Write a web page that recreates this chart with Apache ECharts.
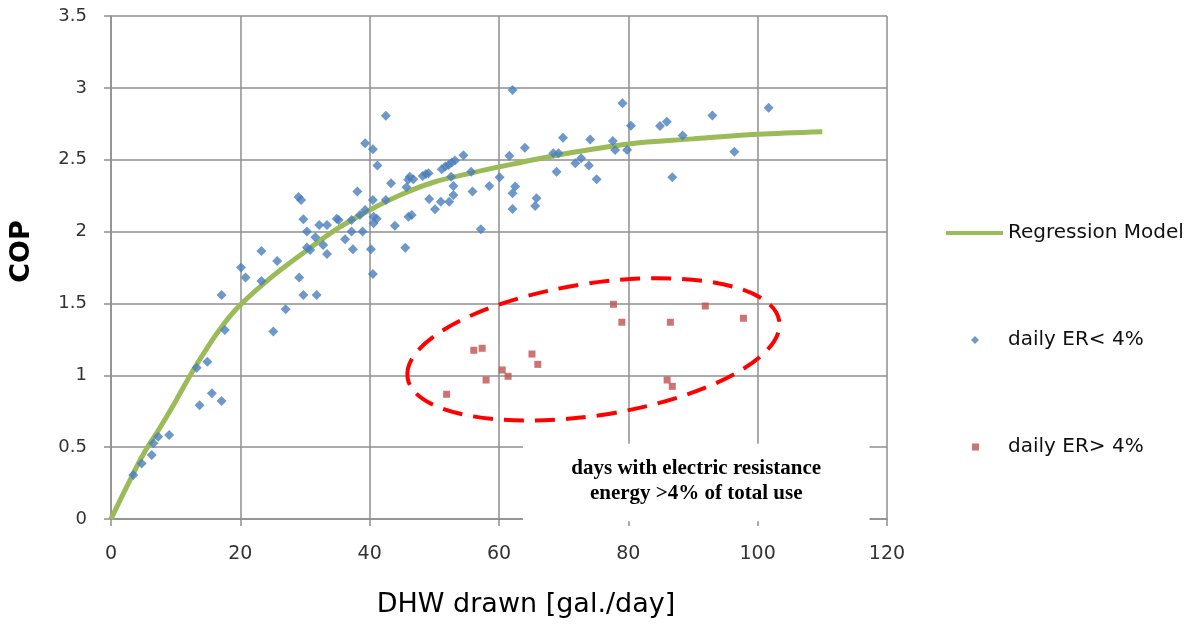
<!DOCTYPE html>
<html>
<head>
<meta charset="utf-8">
<script src="https://cdn.jsdelivr.net/npm/echarts@6/dist/echarts.min.js"></script>
<style>html,body{margin:0;padding:0;background:#fff;}#c{width:1204px;height:630px;}</style>
</head>
<body>
<div id="c"></div>
<script>
// ---- data ----
var xTicks = [0, 20, 40, 60, 80, 100, 120];
var yTicks = [0, 0.5, 1, 1.5, 2, 2.5, 3, 3.5];

// Regression model curve
var regX = [0, 2.5, 5, 7.5, 10, 12.5, 15, 17.5, 20, 25, 30, 35, 40, 45, 50, 55, 60, 70, 80, 90, 100, 110];
var regY = [0, 0.23, 0.45, 0.63, 0.82, 1.02, 1.2, 1.36, 1.49, 1.69, 1.86, 2.02, 2.15, 2.26, 2.345, 2.4, 2.45, 2.54, 2.61, 2.645, 2.677, 2.695];

// daily ER < 4%
var lowX = [3.45, 4.74, 6.3, 6.55, 7.3, 9.0, 13.7, 15.6, 17.1, 13.25, 14.9, 17.6,
  41.2, 43.3, 38.1, 29.0, 29.4, 40.5, 42.5, 39.3, 38.5, 40.6, 41.1, 40.6, 43.9, 34.9, 35.2, 37.2, 29.75, 32.2, 33.4,
  30.3, 31.6, 36.2, 37.2, 38.9, 30.3, 30.8, 32.8, 33.4, 37.4, 40.2, 40.5, 23.25, 25.7, 20.1, 20.8, 23.25, 29.1,
  29.75, 31.8, 17.1, 27.0, 25.1,
  62.1, 42.5, 39.3, 40.5, 45.5, 46.2, 45.95, 46.75, 45.7, 48.2, 48.7, 49.1, 49.2, 46.0, 46.5, 50.1, 51.0, 52.3,
  52.95, 52.95, 52.6, 51.15, 51.7, 52.2, 52.7, 53.2, 54.5, 55.7, 55.9, 58.5, 57.2, 60.1, 61.6, 62.5, 62.1, 62.1,
  64.0, 65.8, 65.6, 68.4, 69.2, 68.9,
  69.9, 71.8, 72.7, 73.9, 74.1, 75.1, 77.6, 77.96, 79.1, 80.4, 79.8, 84.9, 85.95, 88.4, 86.8, 93.0, 96.4, 101.7];
var lowY = [0.306, 0.387, 0.445, 0.527, 0.573, 0.585, 0.791, 0.875, 0.821, 1.053, 1.095, 1.315,
  2.459, 2.336, 2.278, 2.24, 2.22, 2.22, 2.22, 2.15, 2.115, 2.104, 2.09, 2.058, 2.04, 2.09, 2.08, 2.08, 2.086, 2.046, 2.046,
  2.0, 1.96, 1.946, 2.0, 2.0, 1.89, 1.872, 1.907, 1.844, 1.877, 1.877, 1.705, 1.865, 1.795, 1.75, 1.68, 1.656, 1.68,
  1.559, 1.559, 1.559, 1.459, 1.304,
  2.985, 2.806, 2.614, 2.573, 1.888, 2.382, 2.36, 2.364, 2.308, 2.387, 2.40, 2.405, 2.227, 2.104, 2.115, 2.155, 2.208, 2.208,
  2.255, 2.317, 2.382, 2.433, 2.452, 2.463, 2.48, 2.494, 2.531, 2.417, 2.278, 2.317, 2.016, 2.378, 2.528, 2.313, 2.266, 2.157,
  2.584, 2.232, 2.178, 2.545, 2.545, 2.417,
  2.653, 2.475, 2.51, 2.459, 2.64, 2.364, 2.63, 2.568, 2.893, 2.737, 2.568, 2.735, 2.765, 2.668, 2.378, 2.807, 2.556, 2.862];

// daily ER > 4%
var highX = [77.7, 79.0, 91.9, 97.8, 86.5, 56.1, 57.4, 65.1, 66.0, 60.5, 61.4, 58.0, 51.9, 86.0, 86.8];
var highY = [1.494, 1.369, 1.482, 1.397, 1.369, 1.174, 1.188, 1.148, 1.076, 1.037, 0.993, 0.967, 0.868, 0.967, 0.923];

// annotation
var ellipseCenter = [74.6, 1.18];
var noteLines = ['days with electric resistance', 'energy >4% of total use'];

function zip(a, b) { return a.map(function (v, i) { return [v, b[i]]; }); }

var chart = echarts.init(document.getElementById('c'), null, { renderer: 'canvas' });
var gridCol = '#8f8f8f';
var legText = { fontFamily: 'DejaVu Sans', fontSize: 20, color: '#111' };
var option = {
  animation: false,
  backgroundColor: '#ffffff',
  grid: { left: 111, right: 317, top: 16, bottom: 111, containLabel: false },
  xAxis: {
    type: 'value', min: 0, max: 120, interval: 20,
    name: 'DHW drawn [gal./day]', nameLocation: 'middle', nameGap: 72,
    nameTextStyle: { fontFamily: 'DejaVu Sans', fontSize: 27, color: '#000', padding: [0, 0, 0, 54] },
    axisLine: { show: true, lineStyle: { color: gridCol, width: 1.5 } },
    axisTick: { show: true, length: 7, lineStyle: { color: gridCol, width: 1.5 } },
    axisLabel: { margin: 26, fontFamily: 'DejaVu Sans', fontSize: 19, color: '#333',
      formatter: function (v) { return xTicks.indexOf(v) >= 0 ? String(v) : ''; } },
    splitLine: { show: true, lineStyle: { color: gridCol, width: 1.5 } }
  },
  yAxis: {
    type: 'value', min: 0, max: 3.5, interval: 0.5,
    name: 'COP', nameLocation: 'middle', nameGap: 76,
    nameTextStyle: { fontFamily: 'DejaVu Sans', fontSize: 27, fontWeight: 'bold', color: '#000', padding: [0, 0, 0, 32] },
    axisLine: { show: true, lineStyle: { color: gridCol, width: 1.5 } },
    axisTick: { show: true, length: 7, lineStyle: { color: gridCol, width: 1.5 } },
    axisLabel: { margin: 24, fontFamily: 'DejaVu Sans', fontSize: 18, color: '#333',
      formatter: function (v) { return yTicks.indexOf(v) >= 0 ? String(v) : ''; } },
    splitLine: { show: true, lineStyle: { color: gridCol, width: 1.5 } }
  },
  legend: [
    { id: 'legReg', data: [{ name: 'Regression Model', itemStyle: { color: 'rgba(0,0,0,0)', borderWidth: 0, opacity: 0 } }],
      left: 939, top: 218, itemWidth: 57, itemHeight: 20,
      lineStyle: { width: 4, color: '#9BBB59' }, textStyle: legText },
    { id: 'legLow', data: [{ name: 'daily ER< 4%', icon: 'diamond' }], left: 966, top: 325, itemWidth: 8, itemHeight: 8,
      textStyle: Object.assign({ padding: [0, 0, 0, 24] }, legText) },
    { id: 'legHigh', data: [{ name: 'daily ER> 4%', icon: 'rect' }], left: 967, top: 432, itemWidth: 7, itemHeight: 7,
      textStyle: Object.assign({ padding: [0, 0, 0, 24] }, legText) }
  ],
  series: [
    { name: 'Regression Model', type: 'line', data: zip(regX, regY), smooth: 0.35, symbol: 'none', showSymbol: false, z: 3,
      lineStyle: { color: '#9BBB59', width: 5 }, itemStyle: { color: '#9BBB59' } },
    { name: 'daily ER< 4%', type: 'scatter', data: zip(lowX, lowY), symbol: 'diamond', symbolSize: 10, z: 4,
      itemStyle: { color: '#4A7EBB' } },
    { name: 'daily ER> 4%', type: 'scatter', data: zip(highX, highY), symbol: 'rect', symbolSize: 7, z: 4,
      itemStyle: { color: '#C0504D' } }
  ]
};
chart.setOption(option);

// annotations placed from data coordinates
var c = chart.convertToPixel({ gridIndex: 0 }, ellipseCenter);
var boxTL = chart.convertToPixel({ gridIndex: 0 }, [63.7, 0.524]);
var boxBR = chart.convertToPixel({ gridIndex: 0 }, [117.3, -0.015]);
var boxW = boxBR[0] - boxTL[0], boxH = boxBR[1] - boxTL[1];
chart.setOption({
  graphic: [
    { type: 'ellipse', x: c[0], y: c[1], rotation: 8.7 * Math.PI / 180, z: 100,
      shape: { cx: 0, cy: 0, rx: 188, ry: 66 },
      style: { fill: 'none', stroke: '#ff0000', lineWidth: 4, lineDash: [20, 11] } },
    { type: 'rect', x: boxTL[0], y: boxTL[1], z: 100,
      shape: { x: 0, y: 0, width: boxW, height: boxH },
      style: { fill: '#ffffff' } },
    { type: 'text', x: boxTL[0] + boxW / 2 + 0, y: boxTL[1] + 12, z: 101,
      style: { text: noteLines.join('\n'), fontFamily: 'Liberation Serif', fontWeight: 'bold', fontSize: 21,
        lineHeight: 25, fill: '#000', align: 'center', verticalAlign: 'top' } }
  ]
});
</script>
</body>
</html>
